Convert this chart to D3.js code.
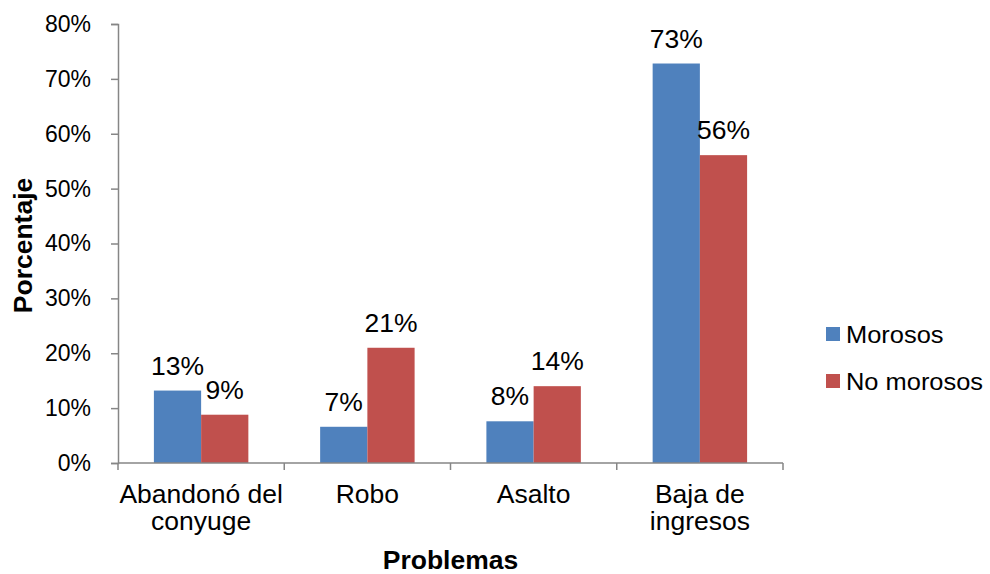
<!DOCTYPE html>
<html>
<head>
<meta charset="utf-8">
<script src="https://cdn.jsdelivr.net/npm/d3@7"></script>
<style>
  html, body { margin: 0; padding: 0; background: #fff; }
  svg { display: block; }
  text { font-family: "Liberation Sans", Arial, sans-serif; fill: #000; }
</style>
</head>
<body>
<svg id="chart" width="990" height="574"></svg>
<script>
// Categories (two-line labels) and series values in percent
const categories = [
  ["Abandonó del", "conyuge"],
  ["Robo"],
  ["Asalto"],
  ["Baja de", "ingresos"]
];
const seriesNames = ["Morosos", "No morosos"];
const morosos   = [13.2, 6.6, 7.6, 72.8];
const noMorosos = [8.8, 21.0, 14.0, 56.1];
const yTicks = [0, 10, 20, 30, 40, 50, 60, 70, 80];
const colors = ["#4F81BD", "#C0504D"];

const series = [morosos, noMorosos];
const svg = d3.select("#chart");

const plot = { left: 118, right: 783, top: 24, bottom: 463 };
const axisColor = "#868686";
const widen = 1.06;   // slight horizontal widening of the glyphs

// text placed at (x,y), widened horizontally around its anchor
function label(parent, x, y, str, size, opts = {}) {
  const t = parent.append("text")
    .attr("transform", `translate(${x},${y}) ${opts.rotate ? "rotate(-90) " : ""}scale(${widen},1)`)
    .attr("text-anchor", opts.anchor || "middle")
    .style("font-size", size + "px")
    .style("font-weight", opts.bold ? "bold" : "normal")
    .text(str);
  return t;
}

const x = d3.scaleBand()
  .domain(d3.range(categories.length))
  .range([plot.left, plot.right])
  .paddingInner(0).paddingOuter(0);

// two bars sit in the middle of each category band
const x1 = d3.scaleBand()
  .domain(d3.range(series.length))
  .range([0, x.bandwidth()])
  .paddingOuter(0.76).paddingInner(0);

const y = d3.scaleLinear().domain([0, 80]).range([plot.bottom, plot.top]);

// Bars
series.forEach((vals, s) => {
  svg.append("g").selectAll("rect")
    .data(vals)
    .join("rect")
    .attr("x", (d, i) => x(i) + x1(s))
    .attr("y", d => y(d))
    .attr("width", x1.bandwidth())
    .attr("height", d => y(0) - y(d))
    .attr("fill", colors[s]);
});

// Value labels above bars
const valG = svg.append("g");
series.forEach((vals, s) => {
  vals.forEach((d, i) => {
    label(valG, x(i) + x1(s) + x1.bandwidth() / 2, y(d) - 16, Math.round(d) + "%", 25);
  });
});

// Y axis
const yAxis = d3.axisLeft(y)
  .tickValues(yTicks)
  .tickSize(7)
  .tickPadding(20)
  .tickFormat(d => d + "%");
const gy = svg.append("g")
  .attr("transform", `translate(${plot.left},0)`)
  .call(yAxis);
gy.select(".domain").attr("stroke", axisColor).attr("stroke-width", 1.5);
gy.selectAll(".tick line").attr("stroke", axisColor).attr("stroke-width", 1.5);
gy.selectAll(".tick text")
  .style("font-size", "23px")
  .style("font-family", "'Liberation Sans', Arial, sans-serif")
  .attr("fill", "#000");

// X axis: baseline plus ticks at category boundaries
const boundaries = d3.range(categories.length + 1).map(i =>
  i < categories.length ? x(i) : x(categories.length - 1) + x.bandwidth());
const gx = svg.append("g");
gx.append("line")
  .attr("x1", plot.left).attr("x2", plot.right)
  .attr("y1", y(0)).attr("y2", y(0))
  .attr("stroke", axisColor).attr("stroke-width", 1.5);
gx.selectAll("line.tk")
  .data(boundaries)
  .join("line")
  .attr("class", "tk")
  .attr("x1", d => d).attr("x2", d => d)
  .attr("y1", y(0)).attr("y2", y(0) + 7)
  .attr("stroke", axisColor).attr("stroke-width", 1.5);

// Category labels
const catG = svg.append("g");
categories.forEach((lines, i) => {
  lines.forEach((ln, j) => {
    label(catG, x(i) + x.bandwidth() / 2, 503 + j * 27, ln, 25);
  });
});

// Axis titles
label(svg, (plot.left + plot.right) / 2, 569, "Problemas", 25, { bold: true });
label(svg, 32, (plot.top + plot.bottom) / 2 + 2, "Porcentaje", 25, { bold: true, rotate: true });

// Legend
const legend = svg.append("g").attr("transform", "translate(826,334)");
seriesNames.forEach((name, s) => {
  const row = legend.append("g").attr("transform", `translate(0,${s * 47})`);
  row.append("rect")
    .attr("x", 0).attr("y", -7)
    .attr("width", 14).attr("height", 14)
    .attr("fill", colors[s]);
  label(row, 20, 9, name, 24, { anchor: "start" });
});
</script>
</body>
</html>
